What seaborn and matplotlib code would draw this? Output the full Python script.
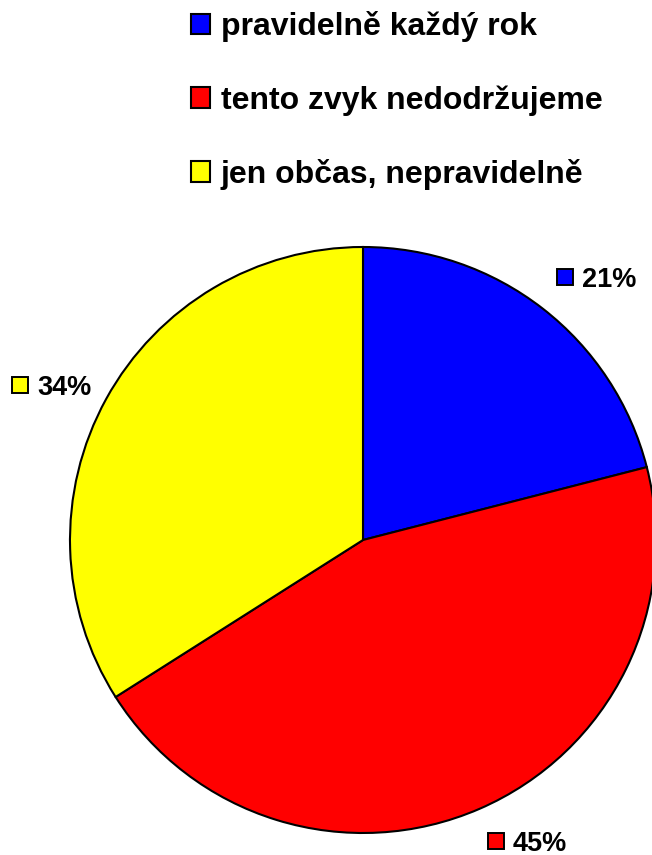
import numpy as np
import matplotlib
matplotlib.use("Agg")
import matplotlib.pyplot as plt
import matplotlib.transforms as mtransforms
from matplotlib.patches import Patch
import seaborn as sns

# ---- data ----
categories = ["pravidelně každý rok", "tento zvyk nedodržujeme", "jen občas, nepravidelně"]
values = [21, 45, 34]
colors = ["#0000FF", "#FF0000", "#FFFF00"]
# data-label anchor points (text left edge, baseline) in pie units (radius = 1)
label_pos = [(0.747, 0.864), (0.509, -1.060), (-1.113, 0.495)]

sns.set_theme(style="white")
plt.rcParams["font.family"] = ["Liberation Sans", "DejaVu Sans"]
plt.rcParams["text.color"] = "black"

W, H = 652, 855
fig = plt.figure(figsize=(W / 100, H / 100), dpi=100)
fig.patch.set_facecolor("white")

cx, cy, r = 363, 540, 293
ax = fig.add_axes([(cx - r) / W, (H - cy - r) / H, 2 * r / W, 2 * r / H])

wedges, _ = ax.pie(values, colors=colors, startangle=90, counterclock=False,
                   radius=1, wedgeprops=dict(edgecolor="black", linewidth=1.5),
                   frame=False)
for w in wedges:
    w.set_clip_on(False)
ax.set_xlim(-1, 1)
ax.set_ylim(-1, 1)
ax.set_aspect("auto")
ax.axis("off")

# ---- data labels with small square keys ----
for v, c, (x, y) in zip(values, colors, label_pos):
    tr_sq = mtransforms.offset_copy(ax.transData, fig=fig, x=-16.5, y=9.5, units="dots")
    ax.plot([x], [y], marker="s", markersize=11.5, markerfacecolor=c,
            markeredgecolor="black", markeredgewidth=1.4, transform=tr_sq,
            clip_on=False, linestyle="none")
    ax.text(x, y, f"{v}%", ha="left", va="baseline",
            fontsize=19.5, fontweight="bold", color="black", clip_on=False,
            family="Liberation Sans")

# ---- legend ----
handles = [Patch(facecolor=c, edgecolor="black", linewidth=1.5) for c in colors]
fig.legend(handles, categories, loc="upper left",
           bbox_to_anchor=(191 / W, 1 - 11 / H), frameon=False,
           prop=dict(family="Liberation Sans", weight="bold", size=23),
           labelcolor="black",
           handlelength=0.6, handleheight=0.6, handletextpad=0.33,
           labelspacing=1.35, borderpad=0, borderaxespad=0)

fig.savefig("out.png", dpi=100, facecolor="white")
